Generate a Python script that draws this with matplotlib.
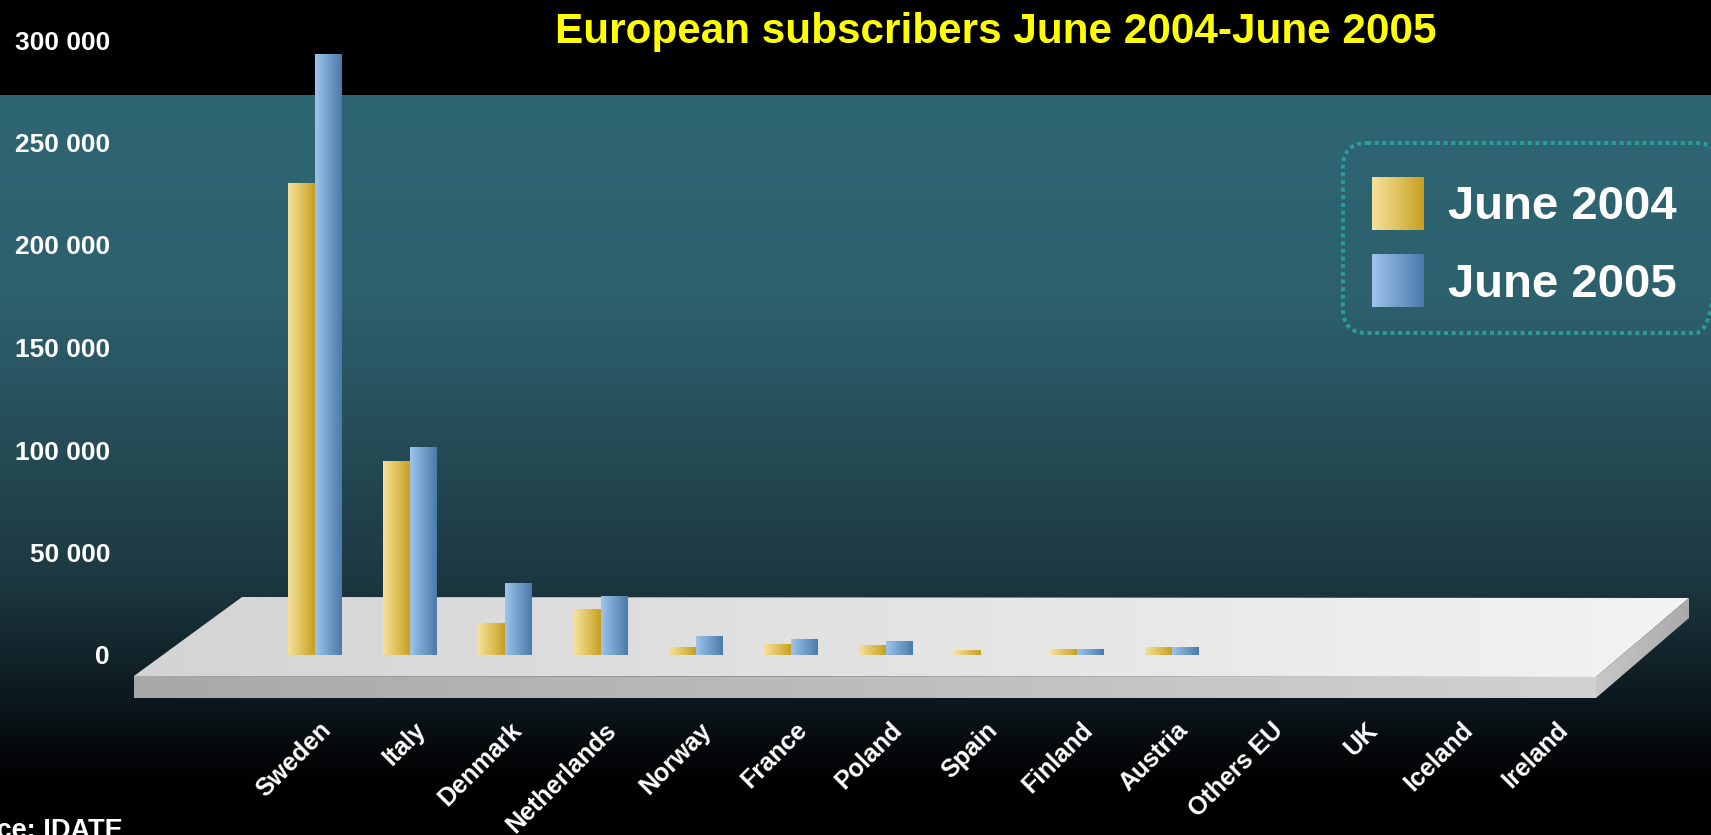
import numpy as np
import matplotlib
matplotlib.use('Agg')
import matplotlib.pyplot as plt
from matplotlib.patches import Polygon, FancyBboxPatch
from matplotlib.ticker import FuncFormatter

plt.rcParams['font.family'] = ['Liberation Sans', 'DejaVu Sans']
plt.rcParams['font.weight'] = 'bold'

# ---- data ----
countries = ['Sweden', 'Italy', 'Denmark', 'Netherlands', 'Norway', 'France',
             'Poland', 'Spain', 'Finland', 'Austria', 'Others EU', 'UK',
             'Iceland', 'Ireland']
subs_2004 = [230000, 94500, 15500, 22300, 3700, 5000, 4700, 2400, 2900, 3900, 0, 0, 0, 0]
subs_2005 = [293000, 101000, 35000, 28700, 9100, 7400, 6600, 0, 2900, 3800, 0, 0, 0, 0]
series_names = ['June 2004', 'June 2005']
y_ticks = [0, 50000, 100000, 150000, 200000, 250000, 300000]

title = 'European subscribers June 2004-June 2005'
source = 'Source: IDATE'

# ---- styles ----
W, H = 1711, 835
yellow = ((246, 226, 156), (200, 160, 32))
blue = ((158, 196, 234), (74, 122, 171))


def rgb(c):
    return np.array(c, dtype=float) / 255.0


def hgrad(c0, c1, n=256):
    g = np.linspace(0, 1, n)[None, :, None]
    return (1 - g) * rgb(c0) + g * rgb(c1)


fig = plt.figure(figsize=(W / 100, H / 100), dpi=100)
fig.patch.set_facecolor('black')

# background layer in pixel coordinates
bg = fig.add_axes([0, 0, 1, 1])
bg.set_xlim(0, W)
bg.set_ylim(H, 0)
bg.axis('off')

rows = np.arange(H)
stop_y = [0, 94, 95, 300, 580, 700, 780, 835]
stop_c = [(0, 0, 0), (0, 0, 0), (47, 102, 116), (45, 96, 109),
          (29, 56, 64), (12, 24, 29), (0, 0, 0), (0, 0, 0)]
col = np.stack([np.interp(rows, stop_y, [c[k] for c in stop_c]) for k in range(3)], axis=1) / 255.0
bg.imshow(col[:, None, :], extent=[0, W, H, 0], aspect='auto', zorder=0)


def grad_poly(ax, verts, c0, c1, zorder):
    poly = Polygon(verts, closed=True, facecolor='none', edgecolor='none', zorder=zorder)
    ax.add_patch(poly)
    xs = [v[0] for v in verts]
    ys = [v[1] for v in verts]
    im = ax.imshow(hgrad(c0, c1), extent=[min(xs), max(xs), max(ys), min(ys)],
                   aspect='auto', zorder=zorder, interpolation='bilinear')
    im.set_clip_path(poly)


# floor slab
grad_poly(bg, [(134, 676), (242, 597), (1689, 598), (1596, 677)], (212, 212, 212), (243, 243, 243), 1)
grad_poly(bg, [(134, 676), (1596, 677), (1596, 698), (134, 698)], (168, 168, 168), (210, 210, 210), 1)
grad_poly(bg, [(1596, 677), (1689, 598), (1689, 618), (1596, 698)], (200, 200, 200), (170, 170, 170), 1)

# legend
frame = FancyBboxPatch((1343, 143), 377, 190, boxstyle='round,pad=0,rounding_size=24',
                       facecolor='none', edgecolor='#2a9b98', linewidth=2.9,
                       linestyle=(0, (1, 0.9)), zorder=3)
bg.add_patch(frame)
for k, (name, cols) in enumerate(zip(series_names, [yellow, blue])):
    top = 177 + 77 * k
    bg.imshow(hgrad(*cols), extent=[1372, 1424, top + 53, top], aspect='auto',
              zorder=4, interpolation='bilinear')
    bg.text(1448, 219 + 78 * k, name, color='white', fontsize=34, fontweight='bold',
            ha='left', va='baseline', zorder=5)

# ---- bar chart ----
L_px, zero_px, top_px = 124, 655, 40
step = 95.2
c0_px = 315
ax = fig.add_axes([L_px / W, (H - zero_px) / H, (W - L_px) / W, (zero_px - top_px) / H])
ax.set_facecolor('none')
ax.set_xlim((L_px - c0_px) / step, (W - c0_px) / step)
ax.set_ylim(0, 300000)
for s in ax.spines.values():
    s.set_visible(False)

x = np.arange(len(countries))
w = 27 / step
bars04 = ax.bar(x - w / 2, subs_2004, width=w, color='none', linewidth=0)
bars05 = ax.bar(x + w / 2, subs_2005, width=w, color='none', linewidth=0)
for bars, cols in [(bars04, yellow), (bars05, blue)]:
    for b in bars:
        h = b.get_height()
        if h <= 0:
            continue
        x0 = b.get_x()
        im = ax.imshow(hgrad(*cols), extent=[x0, x0 + b.get_width(), 0, h],
                       aspect='auto', interpolation='bilinear', zorder=3)
        im.set_clip_path(b)
        im.set_clip_on(False)

ax.set_yticks(y_ticks)
ax.yaxis.set_major_formatter(FuncFormatter(lambda v, p: f'{int(v):,}'.replace(',', ' ')))
ax.tick_params(axis='y', length=0, pad=10, labelsize=19, labelcolor='white')
for t in ax.get_yticklabels():
    t.set_fontweight('bold')
ax.set_xticks([])

label_y = (zero_px - 718) / (zero_px - top_px)
for i, name in enumerate(countries):
    ax.text(i + 0.04, label_y, name, transform=ax.get_xaxis_transform(),
            rotation=45, rotation_mode='anchor', ha='right', va='top',
            color='white', fontsize=18, fontweight='bold', clip_on=False)

fig.text(996 / W, 1 - 43 / H, title, color='#ffff00', fontsize=30.4, fontweight='bold',
         ha='center', va='baseline')
fig.text(123 / W, 1 - 818 / H, source, color='white', fontsize=19.5, fontweight='bold',
         ha='right', va='top')

fig.savefig('out.png', dpi=100, facecolor='black')
